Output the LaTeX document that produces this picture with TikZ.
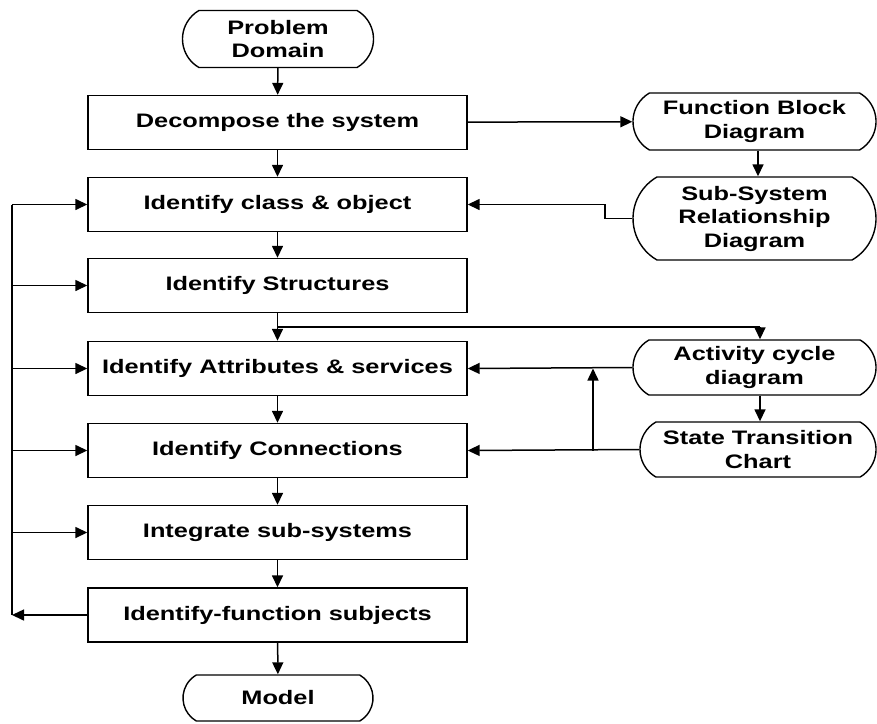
\documentclass[tikz,border=0pt]{standalone}
\usepackage{fontspec}
\newfontfamily\labfont{Liberation Sans Bold}[FakeStretch=1.3]
\usetikzlibrary{arrows.meta,shapes.misc,calc}
\begin{document}
\begin{tikzpicture}[x=1pt,y=-1pt,
  every node/.style={font=\labfont\fontsize{19.5}{23.5}\selectfont, align=center, inner sep=0pt},
  stepbox/.style={draw, line width=1.4pt, rectangle, minimum width=379pt, minimum height=54pt},
  term/.style={draw, line width=1.4pt, rounded rectangle, rounded rectangle arc length=120, minimum height=57pt},
  arr/.style={-{Triangle[length=12pt,width=11pt]}, line width=1.5pt},
  ln/.style={line width=1.5pt}]
\useasboundingbox (0,0) rectangle (877,723);

% main column
\node[term, minimum width=191pt] (pd) at (278,39) {Problem\\Domain};
\node[stepbox] (dec) at (277.5,122.5) {Decompose the system};
\node[stepbox] (cls) at (277.5,204.5) {Identify class \& object};
\node[stepbox] (str) at (277.5,285.5) {Identify Structures};
\node[stepbox] (att) at (277.5,368.5) {Identify Attributes \& services};
\node[stepbox] (con) at (277.5,450.5) {Identify Connections};
\node[stepbox] (int) at (277.5,532.5) {Integrate sub-systems};
\node[stepbox] (idf) at (277.5,615) {Identify-function subjects};
\node[term, minimum width=190pt, minimum height=46pt] (mod) at (278,698) {Model};

% side documents
\node[term, minimum width=243pt] (fbd) at (754.5,121.5) {Function Block\\Diagram};
\node[term, minimum width=243pt, minimum height=83pt] (ssr) at (754.5,218.5) {Sub-System\\Relationship\\Diagram};
\node[term, minimum width=243pt, minimum height=55pt] (acd) at (754.5,367.5) {Activity cycle\\diagram};
\node[term, minimum width=236pt, minimum height=55pt] (stc) at (758,449.5) {State Transition\\Chart};

% main flow
\draw[arr] (pd) -- (dec);
\draw[arr] (dec) -- (cls);
\draw[arr] (cls) -- (str);
\draw[arr] (str) -- (att);
\draw[arr] (att) -- (con);
\draw[arr] (con) -- (int);
\draw[arr] (int) -- (idf);
\draw[arr] (idf) -- (mod);

% side flow
\draw[arr] (dec) -- (fbd);
\draw[arr] (fbd.south -| 758,0) -- (ssr.north -| 758,0);
\draw[arr] (ssr.west) -- (605,218.5) -- (605,204.5) -- (cls.east);
\coordinate (br) at (277.5,327);
\draw[ln] (br) -- (760,327);
\draw[arr] (760,327) -- (acd.north -| 760,0);
\draw[arr] (acd.south -| 760,0) -- (stc.north -| 760,0);
\draw[arr] (acd.west) -- (att.east);
\draw[arr] (stc.west) -- (con.east);
\coordinate (up) at (593,450.5);
\draw[arr] (up) -- (593,368.5);

% feedback loop on the left
\coordinate (fb) at (12,615);
\draw[arr] (idf.west) -- (fb);
\draw[ln] (fb) -- (12,204.5);
\foreach \n in {cls,str,att,con,int}
  \draw[arr] (12,0 |- \n.west) -- (\n.west);
\end{tikzpicture}
\end{document}
